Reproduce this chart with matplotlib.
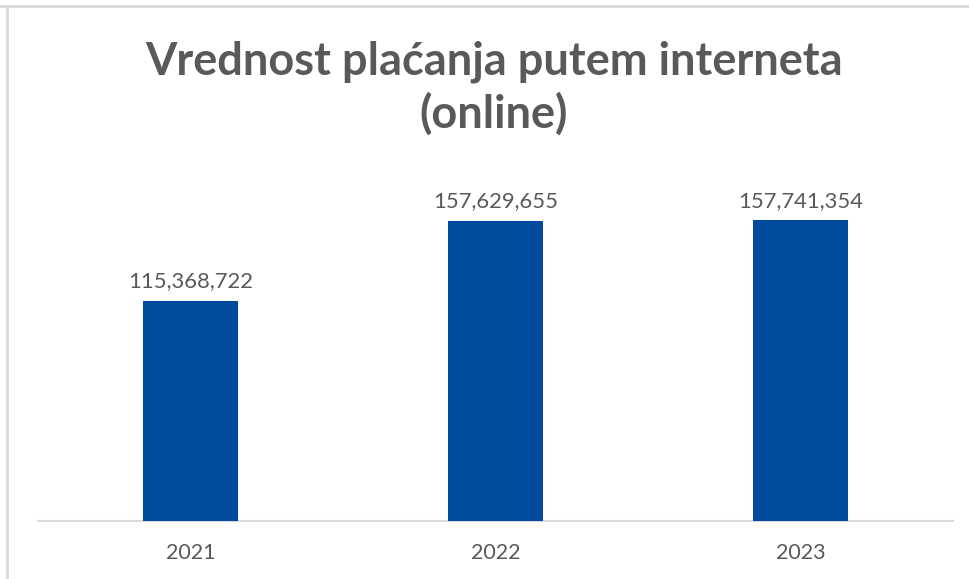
import matplotlib
matplotlib.use("Agg")
import matplotlib.pyplot as plt
from matplotlib.lines import Line2D

years = ["2021", "2022", "2023"]
values = [115368722, 157629655, 157741354]
title = "Vrednost plaćanja putem interneta\n(online)"

bar_color = "#004B9E"
text_color = "#595959"

plt.rcParams['font.family'] = ['Lato', 'DejaVu Sans']

fig = plt.figure(figsize=(9.70, 5.79), dpi=100)
fig.patch.set_facecolor("white")

W, H = 970, 579
ax = fig.add_axes([38 / W, (H - 521) / H, (953 - 38) / W, (521 - 178) / H])
x = list(range(len(years)))
ax.bar(x, values, width=0.31, color=bar_color, zorder=3)
ax.set_xlim(-0.5, len(years) - 0.5)
ax.set_ylim(0, 180000000)
ax.set_yticks([])
ax.set_xticks(x)
ax.set_xticklabels(years, fontsize=15.5, color=text_color)
ax.tick_params(axis='x', length=0, pad=16)
for s in ["top", "right", "left"]:
    ax.spines[s].set_visible(False)
ax.spines["bottom"].set_color("#D9D9D9")
ax.spines["bottom"].set_linewidth(1.5)

for xi, v in zip(x, values):
    ax.annotate(f"{v:,}", (xi, v), xytext=(0, 7), textcoords="offset points",
                ha="center", va="bottom", fontsize=15.8, color=text_color)

fig.text(494 / W, 1 - 88 / H, title, ha="center", va="center", fontsize=32.5,
         fontweight="bold", color=text_color, linespacing=1.25)

fig.add_artist(Line2D([0, 1], [1 - 6 / H, 1 - 6 / H], color="#D9D9D9", lw=2, transform=fig.transFigure))
fig.add_artist(Line2D([7 / W, 7 / W], [0, 1 - 6 / H], color="#D9D9D9", lw=2, transform=fig.transFigure))

fig.savefig("out.png", dpi=100, facecolor="white")
